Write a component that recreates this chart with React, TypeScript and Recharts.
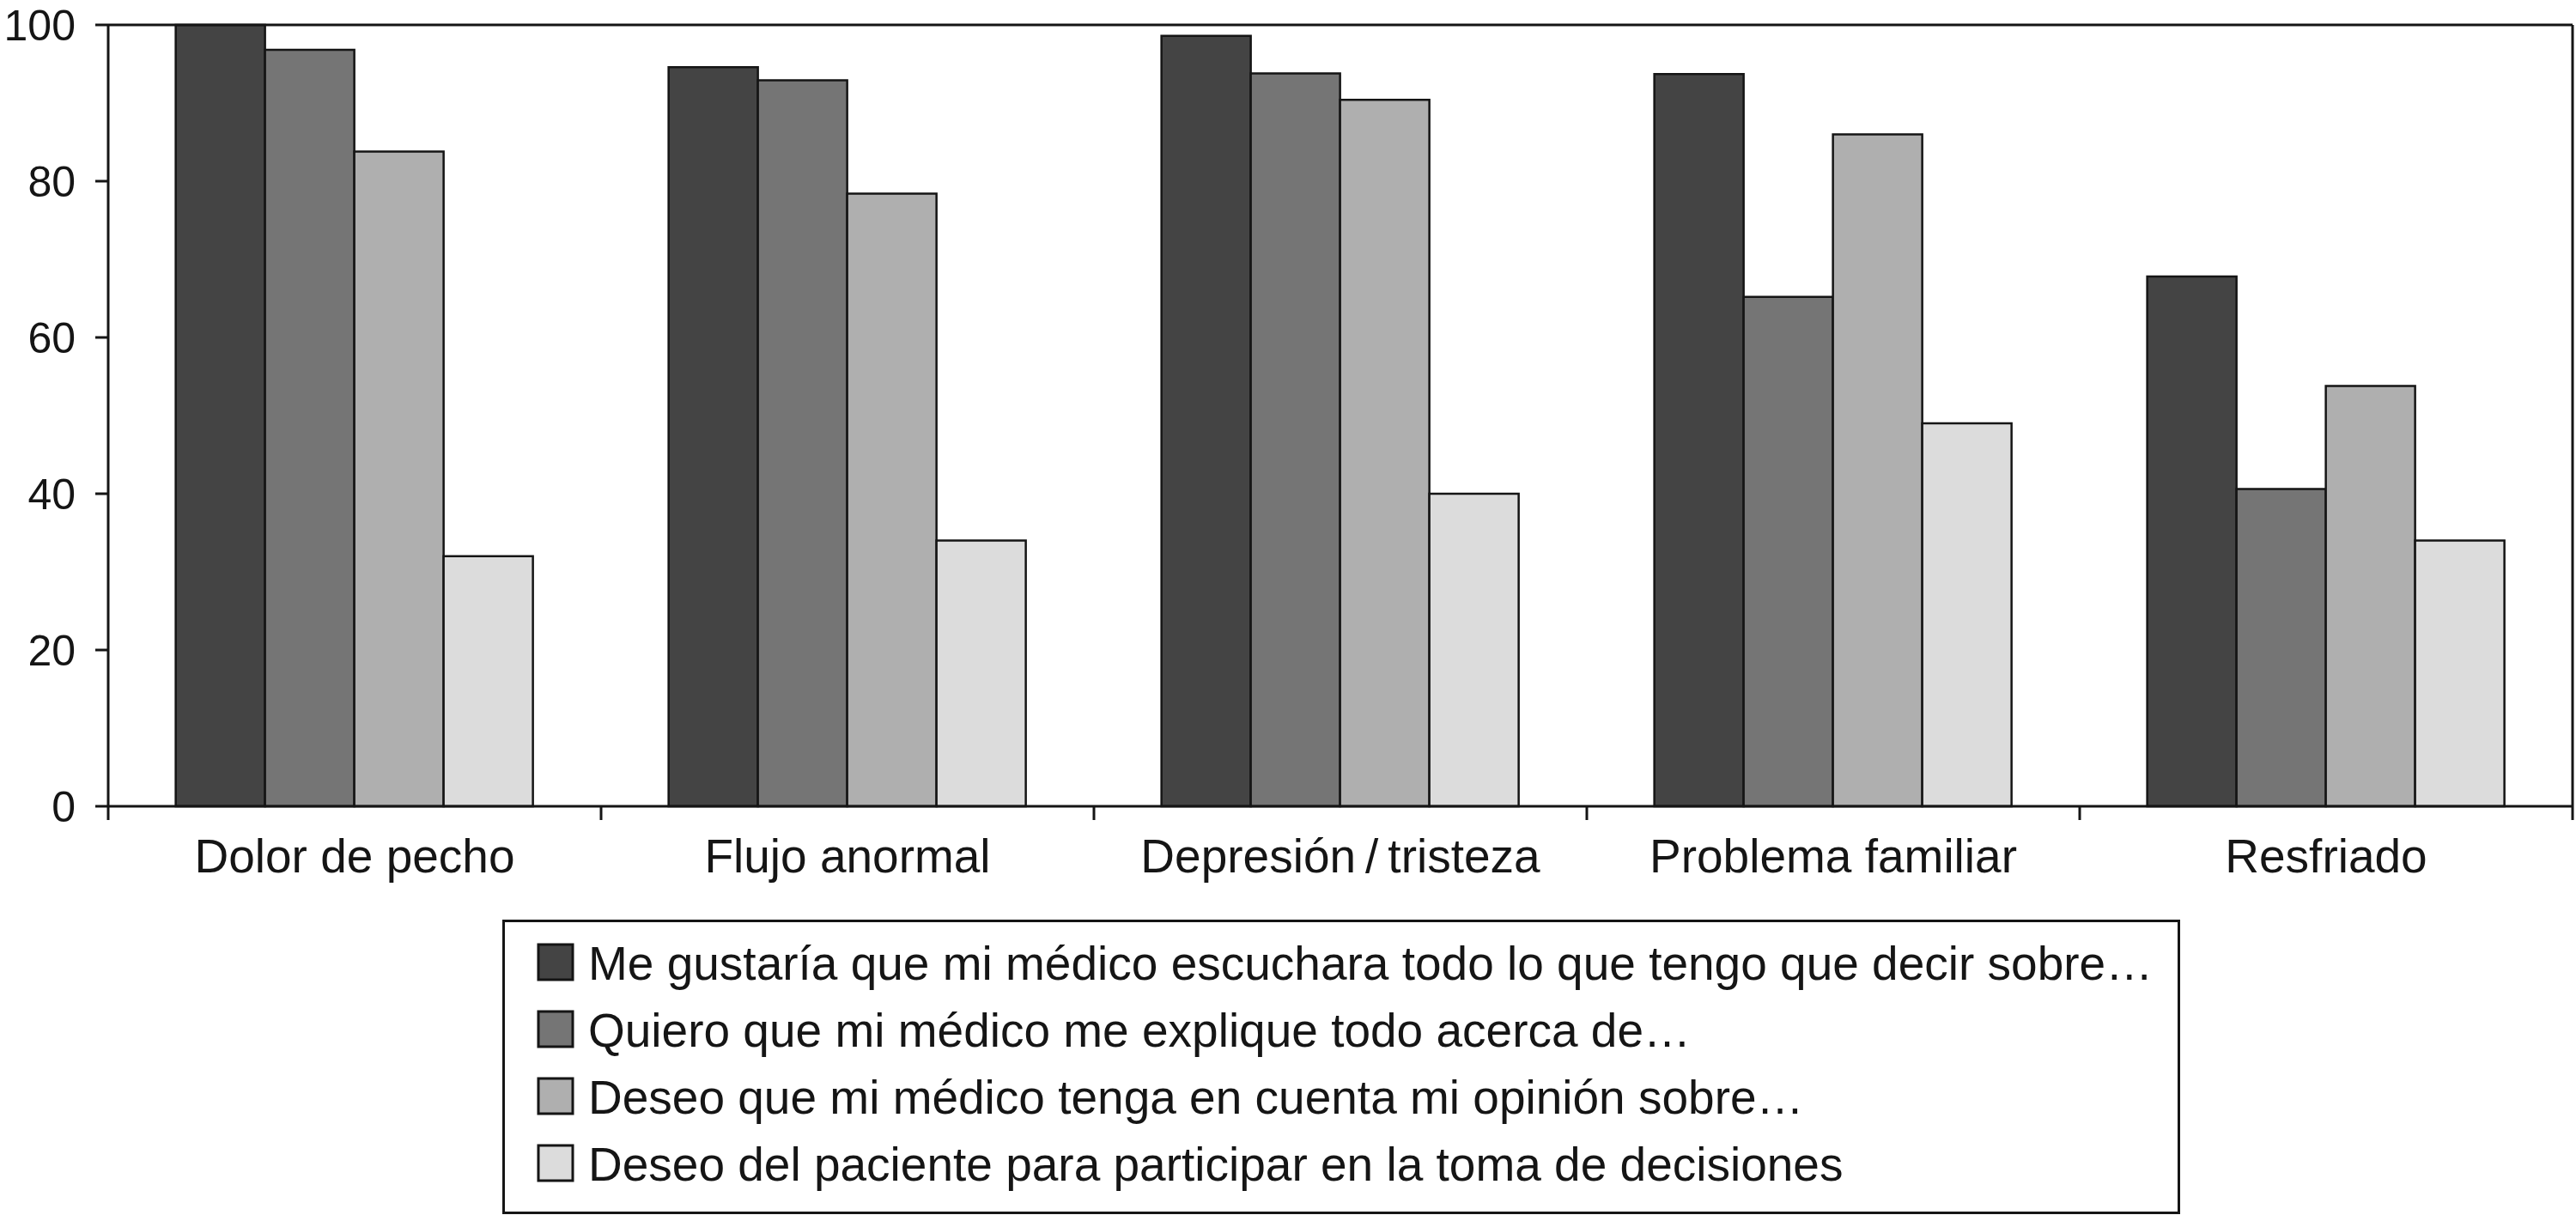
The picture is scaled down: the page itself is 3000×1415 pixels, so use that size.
import React from "react";
import { BarChart, Bar, XAxis, YAxis, Legend } from "recharts";

const categories = [
  "Dolor de pecho",
  "Flujo anormal",
  "Depresión\u2009/\u2009tristeza",
  "Problema familiar",
  "Resfriado",
];
const escuchar = [100, 94.6, 98.6, 93.7, 67.8];
const explicar = [96.8, 92.9, 93.8, 65.2, 40.6];
const opinion = [83.8, 78.4, 90.4, 86, 53.8];
const decisiones = [32, 34, 40, 49, 34];

const seriesNames = [
  "Me gustaría que mi médico escuchara todo lo que tengo que decir sobre…",
  "Quiero que mi médico me explique todo acerca de…",
  "Deseo que mi médico tenga en cuenta mi opinión sobre…",
  "Deseo del paciente para participar en la toma de decisiones",
];
const seriesColors = ["#444444", "#757575", "#afafaf", "#dcdcdc"];
const yTicks = [0, 20, 40, 60, 80, 100];

const data = categories.map((name, i) => ({
  name,
  s1: escuchar[i],
  s2: explicar[i],
  s3: opinion[i],
  s4: decisiones[i],
}));

const FONT = "'Liberation Sans', Arial, sans-serif";
const INK = "#151515";

const CategoryTick = (props: any) => {
  const { x, y, payload, index, visibleTicksCount, width } = props;
  const count = visibleTicksCount || categories.length;
  const half =
    payload && typeof payload.offset === "number" && payload.offset > 0
      ? payload.offset
      : width / (count * 2);
  return (
    <g>
      <line x1={x - half} x2={x - half} y1={y} y2={y + 16} stroke={INK} strokeWidth={3} />
      {index === count - 1 && (
        <line x1={x + half} x2={x + half} y1={y} y2={y + 16} stroke={INK} strokeWidth={3} />
      )}
      <text
        x={x}
        y={y + 77}
        textAnchor="middle"
        fontSize={55}
        fontFamily={FONT}
        fill={INK}
      >
        {payload.value}
      </text>
    </g>
  );
};

const LegendBox = (props: any) => {
  const payload = [...(props.payload || [])].sort(
    (a: any, b: any) => seriesNames.indexOf(a.value) - seriesNames.indexOf(b.value)
  );
  return (
    <svg width={1954} height={344} style={{ display: "block" }}>
      <rect x={1.5} y={1.5} width={1951} height={340} fill="#ffffff" stroke={INK} strokeWidth={3} />
      {payload.map((p: any, i: number) => (
        <g key={i}>
          <rect
            x={42}
            y={29 + i * 78}
            width={40}
            height={41}
            fill={p.color}
            stroke={INK}
            strokeWidth={3}
          />
          <text x={100} y={70 + i * 78} fontSize={55} fontFamily={FONT} fill={INK}>
            {p.value}
          </text>
        </g>
      ))}
    </svg>
  );
};

export default function App() {
  return (
    <div style={{ position: "absolute", left: 0, top: 0, width: 3000, height: 1415, background: "#fff" }}>
      <style>{"body{margin:0;overflow:hidden;background:#fff}"}</style>
      <BarChart
        width={3000}
        height={1415}
        data={data}
        margin={{ top: 28, right: 3, bottom: 376, left: 0 }}
        barCategoryGap="13.7%"
        barGap={0}
      >
        <XAxis
          dataKey="name"
          type="category"
          height={100}
          axisLine={{ stroke: INK, strokeWidth: 3 }}
          tickLine={false}
          tickSize={0}
          tickMargin={0}
          interval={0}
          tick={<CategoryTick />}
        />
        <XAxis
          xAxisId="top"
          dataKey="name"
          orientation="top"
          height={1}
          axisLine={{ stroke: INK, strokeWidth: 3 }}
          tick={false}
          tickLine={false}
        />
        <YAxis
          domain={[0, 100]}
          ticks={yTicks}
          width={126}
          axisLine={{ stroke: INK, strokeWidth: 3 }}
          tickLine={{ stroke: INK, strokeWidth: 3 }}
          tickSize={15}
          tickMargin={23}
          tick={{ fontSize: 50, fontFamily: FONT, fill: INK }}
          interval={0}
        />
        <YAxis
          yAxisId="right"
          orientation="right"
          domain={[0, 100]}
          width={1}
          axisLine={{ stroke: INK, strokeWidth: 3 }}
          tick={false}
          tickLine={false}
        />
        <Legend
          layout="horizontal"
          verticalAlign="middle"
          align="center"
          wrapperStyle={{ left: 585, top: 1071, width: 1954, height: 344 }}
          content={<LegendBox />}
        />
        <Bar dataKey="s1" name={seriesNames[0]} fill={seriesColors[0]} stroke={INK} strokeWidth={2.5} isAnimationActive={false} />
        <Bar dataKey="s2" name={seriesNames[1]} fill={seriesColors[1]} stroke={INK} strokeWidth={2.5} isAnimationActive={false} />
        <Bar dataKey="s3" name={seriesNames[2]} fill={seriesColors[2]} stroke={INK} strokeWidth={2.5} isAnimationActive={false} />
        <Bar dataKey="s4" name={seriesNames[3]} fill={seriesColors[3]} stroke={INK} strokeWidth={2.5} isAnimationActive={false} />
      </BarChart>
    </div>
  );
}
